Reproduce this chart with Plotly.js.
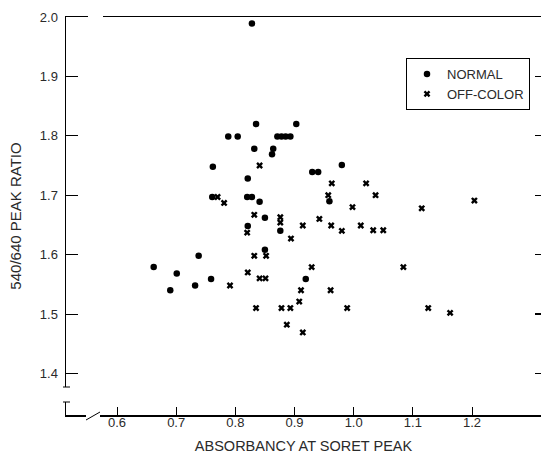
<!DOCTYPE html>
<html>
<head>
<meta charset="utf-8">
<script src="https://cdn.plot.ly/plotly-3.0.1.min.js"></script>
<style>
  html, body { margin: 0; padding: 0; background: #fff; }
  #chart { width: 541px; height: 455px; }
</style>
</head>
<body>
<div id="chart"></div>
<script>
// Soret-peak absorbancy vs. 540/640 peak ratio, normal and off-color samples
const normalAbs = [0.828, 0.835, 0.903, 0.788, 0.804, 0.871, 0.878, 0.885, 0.893,
  0.832, 0.864, 0.862, 0.762, 0.821, 0.761, 0.820, 0.828, 0.841, 0.850, 0.821,
  0.876, 0.850, 0.738, 0.662, 0.701, 0.690, 0.732, 0.759, 0.919, 0.980, 0.930,
  0.940, 0.959];
const normalRatio = [1.989, 1.820, 1.820, 1.799, 1.799, 1.799, 1.799, 1.799, 1.799,
  1.778, 1.778, 1.769, 1.748, 1.728, 1.697, 1.697, 1.697, 1.689, 1.662, 1.648,
  1.640, 1.608, 1.598, 1.579, 1.568, 1.540, 1.548, 1.559, 1.559, 1.751, 1.739,
  1.739, 1.690];

const offAbs = [0.841, 0.770, 0.781, 0.832, 0.876, 0.876, 0.820, 0.894, 0.832, 0.852,
  0.791, 0.821, 0.841, 0.851, 0.835, 0.878, 0.893, 0.887, 0.929, 0.911, 0.961,
  0.908, 0.989, 0.914, 1.084, 1.126, 1.204, 1.115, 1.163, 0.963, 1.021, 1.037,
  0.957, 0.998, 0.942, 0.914, 0.962, 0.980, 1.012, 1.033, 1.050];
const offRatio = [1.750, 1.697, 1.687, 1.667, 1.663, 1.654, 1.637, 1.627, 1.598, 1.598,
  1.548, 1.570, 1.560, 1.560, 1.510, 1.510, 1.510, 1.482, 1.579, 1.540, 1.540,
  1.521, 1.510, 1.469, 1.579, 1.510, 1.691, 1.678, 1.502, 1.720, 1.720, 1.700,
  1.700, 1.680, 1.660, 1.649, 1.649, 1.640, 1.649, 1.641, 1.641];

const xTicks = [0.6, 0.7, 0.8, 0.9, 1.0, 1.1, 1.2];
const xTickText = ['0.6', '0.7', '0.8', '0.9', '1.0', '1.1', '1.2'];
const yTicks = [1.4, 1.5, 1.6, 1.7, 1.8, 1.9, 2.0];
const yTickText = ['1.4', '1.5', '1.6', '1.7', '1.8', '1.9', '2.0'];
const rightTicks = [1.4, 1.5, 1.6, 1.7, 1.8, 1.9];

const xRange = [0.5138, 1.3166];
const yRange = [1.330, 2.0];

const FONT = 'Liberation Sans, Arial, sans-serif';
const INK = '#2a2a2a';

const traces = [
  {
    x: normalAbs, y: normalRatio, name: 'NORMAL',
    type: 'scatter', mode: 'markers',
    marker: { symbol: 'circle', size: 6.5, color: '#000' },
    cliponaxis: false
  },
  {
    x: offAbs, y: offRatio, name: 'OFF-COLOR',
    type: 'scatter', mode: 'markers',
    marker: { symbol: 'x', size: 6, color: '#000', line: { width: 0 } },
    cliponaxis: false
  },
  {
    // same off-color samples, hidden, on the right-hand axis so its ticks get drawn
    x: offAbs, y: offRatio, yaxis: 'y2', showlegend: false, hoverinfo: 'skip',
    type: 'scatter', mode: 'markers', marker: { opacity: 0 }
  }
];

// axis-break helpers (paper coordinates)
const W = 475, H = 398, L = 66, B = 415;
const px = v => (v - L) / W;
const py = v => (B - v) / H;

const shapes = [
  // gap and slash on the horizontal axis
  { type: 'rect', xref: 'paper', yref: 'paper', layer: 'above',
    x0: px(86), x1: px(100), y0: py(419), y1: py(411),
    fillcolor: '#fff', line: { width: 0 } },
  { type: 'line', xref: 'paper', yref: 'paper', layer: 'above',
    x0: px(86), y0: py(420), x1: px(100), y1: py(412),
    line: { color: '#000', width: 1 } },
  // gap with end caps on the vertical axis
  { type: 'rect', xref: 'paper', yref: 'paper', layer: 'above',
    x0: px(62), x1: px(71), y0: py(402), y1: py(387),
    fillcolor: '#fff', line: { width: 0 } },
  { type: 'line', xref: 'paper', yref: 'paper', layer: 'above',
    x0: px(63), x1: px(70), y0: py(387), y1: py(387),
    line: { color: '#000', width: 1 } },
  { type: 'line', xref: 'paper', yref: 'paper', layer: 'above',
    x0: px(63), x1: px(70), y0: py(402), y1: py(402),
    line: { color: '#000', width: 1 } },
  // gap in the top frame line
  { type: 'rect', xref: 'paper', yref: 'paper', layer: 'above',
    x0: px(88), x1: px(103), y0: py(21), y1: py(13),
    fillcolor: '#fff', line: { width: 0 } }
];

const layout = {
  width: 541, height: 455,
  margin: { l: L, r: 0, t: 17, b: 40 },
  paper_bgcolor: '#fff', plot_bgcolor: '#fff',
  font: { family: FONT, size: 13, color: INK },
  showlegend: true,
  legend: {
    x: px(406), y: py(58), xanchor: 'left', yanchor: 'top',
    bgcolor: '#fff', bordercolor: '#000', borderwidth: 1,
    font: { family: FONT, size: 13, color: INK },
    itemwidth: 30, tracegroupgap: 0
  },
  xaxis: {
    range: xRange, showgrid: false, zeroline: false,
    showline: true, linecolor: '#000', linewidth: 1.5, mirror: true,
    ticks: 'inside', ticklen: 8, tickwidth: 1, tickcolor: '#000',
    tickvals: xTicks, ticktext: xTickText, ticklabelstandoff: -5,
    tickfont: { family: FONT, size: 13, color: INK },
    title: { text: 'ABSORBANCY AT SORET PEAK', standoff: 12,
      font: { family: FONT, size: 14.5, color: INK } }
  },
  yaxis: {
    range: yRange, showgrid: false, zeroline: false,
    showline: true, linecolor: '#000', linewidth: 1.5,
    ticks: 'inside', ticklen: 12, tickwidth: 1, tickcolor: '#000',
    tickvals: yTicks, ticktext: yTickText, ticklabelstandoff: 4,
    tickfont: { family: FONT, size: 13, color: INK },
    title: { text: '540/640 PEAK RATIO', standoff: 14,
      font: { family: FONT, size: 15, color: INK } }
  },
  yaxis2: {
    overlaying: 'y', side: 'right', anchor: 'x', range: yRange,
    showgrid: false, zeroline: false, showline: false,
    ticks: 'inside', ticklen: 6, tickwidth: 1.2, tickcolor: '#000',
    tickvals: rightTicks, showticklabels: false
  },
  shapes: shapes
};

Plotly.newPlot('chart', traces, layout, { displayModeBar: false, staticPlot: true });
</script>
</body>
</html>
